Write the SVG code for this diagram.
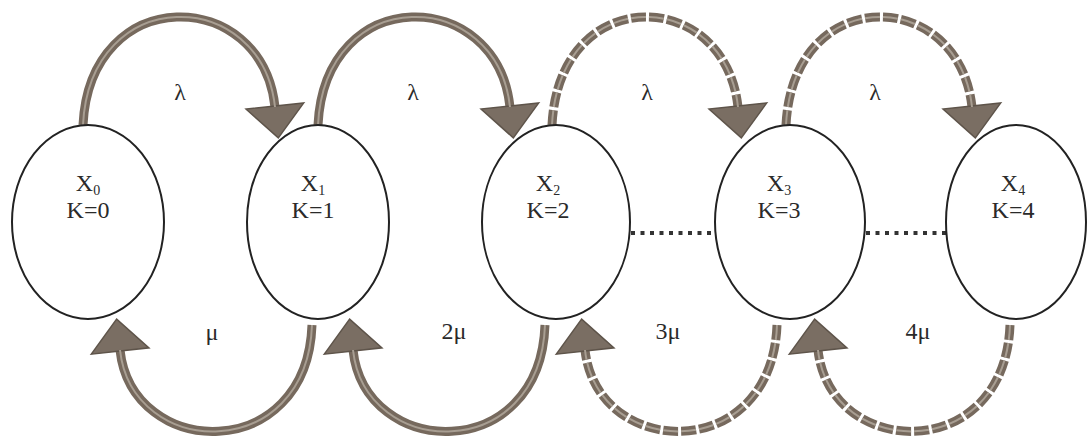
<svg xmlns="http://www.w3.org/2000/svg" width="1089" height="441" viewBox="0 0 1089 441">
  <style>
    .node { fill: #ffffff; stroke: #222222; stroke-width: 2; }
    .lbl { font-family: "Liberation Serif", "Times New Roman", serif; font-size: 24px; fill: #2a2a2a; text-anchor: middle; }
    .sub { font-size: 14px; }
    .arc { fill: none; stroke: #76695d; stroke-width: 9; stroke-linecap: butt; }
    .core { fill: none; stroke: #a89e92; stroke-width: 2; stroke-linecap: butt; }
    .dash { stroke-dasharray: 15 3; }
    .dots { stroke: #333333; stroke-width: 4; stroke-dasharray: 4 5.5; fill: none; }
  </style>
  <defs>
    <marker id="ah" markerUnits="userSpaceOnUse" viewBox="0 0 34 60" markerWidth="34" markerHeight="60" refX="1" refY="30" orient="auto" overflow="visible">
      <path d="M0,1 L32,30 L0,59 Z" fill="#7a6e63" stroke="#5e544a" stroke-width="1.5"/>
    </marker>
  </defs>

  <g id="connectors">
    <!-- top arcs (lambda) -->
    <path class="arc" d="M83,125 C90,-18 262,-14 275,107" marker-end="url(#ah)"/>
    <path class="core" d="M83,125 C90,-18 262,-14 275,107"/>
    <path class="arc" d="M318,125 C325,-18 497,-14 510,107" marker-end="url(#ah)"/>
    <path class="core" d="M318,125 C325,-18 497,-14 510,107"/>
    <path class="arc dash" d="M552,125 C559,-18 725,-14 738,107" marker-end="url(#ah)"/>
    <path class="core dash" d="M552,125 C559,-18 725,-14 738,107"/>
    <path class="arc dash" d="M786,125 C793,-18 959,-14 972,107" marker-end="url(#ah)"/>
    <path class="core dash" d="M786,125 C793,-18 959,-14 972,107"/>
    <!-- bottom arcs (mu) -->
    <path class="arc" d="M312,325 C307,465 132,460 120,350" marker-end="url(#ah)"/>
    <path class="core" d="M312,325 C307,465 132,460 120,350"/>
    <path class="arc" d="M545,325 C540,465 365,460 353,350" marker-end="url(#ah)"/>
    <path class="core" d="M545,325 C540,465 365,460 353,350"/>
    <path class="arc dash" d="M777,325 C772,465 597,460 585,350" marker-end="url(#ah)"/>
    <path class="core dash" d="M777,325 C772,465 597,460 585,350"/>
    <path class="arc dash" d="M1010,325 C1005,465 830,460 818,350" marker-end="url(#ah)"/>
    <path class="core dash" d="M1010,325 C1005,465 830,460 818,350"/>
    <!-- dotted links -->
    <line class="dots" x1="631" y1="233" x2="714" y2="233"/>
    <line class="dots" x1="866" y1="233" x2="948" y2="233"/>
  </g>

  <g id="labels">
    <text class="lbl" x="180" y="100">λ</text>
    <text class="lbl" x="413" y="100">λ</text>
    <text class="lbl" x="647" y="100">λ</text>
    <text class="lbl" x="875" y="100">λ</text>
    <text class="lbl" x="212" y="340">μ</text>
    <text class="lbl" x="454" y="339">2μ</text>
    <text class="lbl" x="668" y="339">3μ</text>
    <text class="lbl" x="918" y="339">4μ</text>
  </g>

  <g id="X0">
    <ellipse class="node" cx="88" cy="222" rx="76" ry="97"/>
    <text class="lbl" x="88" y="191">X<tspan class="sub" dy="4">0</tspan></text>
    <text class="lbl" x="88" y="218">K=0</text>
  </g>
  <g id="X1">
    <ellipse class="node" cx="318" cy="222" rx="71" ry="97"/>
    <text class="lbl" x="313" y="191">X<tspan class="sub" dy="4">1</tspan></text>
    <text class="lbl" x="313" y="218">K=1</text>
  </g>
  <g id="X2">
    <ellipse class="node" cx="556" cy="222" rx="74" ry="97"/>
    <text class="lbl" x="548" y="191">X<tspan class="sub" dy="4">2</tspan></text>
    <text class="lbl" x="548" y="218">K=2</text>
  </g>
  <g id="X3">
    <ellipse class="node" cx="790" cy="222" rx="75" ry="97"/>
    <text class="lbl" x="779" y="191">X<tspan class="sub" dy="4">3</tspan></text>
    <text class="lbl" x="779" y="218">K=3</text>
  </g>
  <g id="X4">
    <ellipse class="node" cx="1016" cy="222" rx="70" ry="97"/>
    <text class="lbl" x="1013" y="191">X<tspan class="sub" dy="4">4</tspan></text>
    <text class="lbl" x="1013" y="218">K=4</text>
  </g>
</svg>
